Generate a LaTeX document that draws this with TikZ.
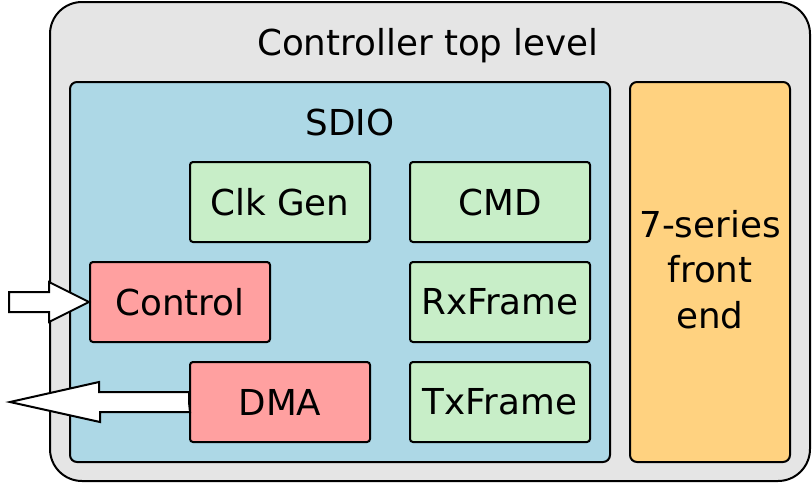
\documentclass[tikz,border=0pt]{standalone}
\usepackage{fontspec}
\setmainfont{DejaVu Sans}
\definecolor{outerbg}{HTML}{E5E5E5}
\definecolor{sdiobg}{HTML}{ADD8E6}
\definecolor{greenbg}{HTML}{C8EEC8}
\definecolor{pinkbg}{HTML}{FFA0A0}
\definecolor{orangebg}{HTML}{FFD280}
\begin{document}
\begin{tikzpicture}[x=1pt,y=-1pt,
  every node/.style={font=\fontsize{35.7}{45.5}\selectfont, inner sep=0pt},
  blk/.style={draw=black, line width=2pt, rounded corners=3pt, minimum width=180pt, minimum height=80pt},
  gblk/.style={blk, fill=greenbg},
  pblk/.style={blk, fill=pinkbg},
  bigarrow/.style={draw=black, line width=2pt, fill=white, line join=miter}
]
\useasboundingbox (0,0) rectangle (812,483);
% containers
\draw[line width=2pt, fill=outerbg, rounded corners=32pt] (50,2) rectangle (810,481);
\node[anchor=base] (title) at (428,55) {Controller top level};
\draw[line width=2pt, fill=sdiobg, rounded corners=7pt] (70,82) rectangle (610,462);
\node[anchor=base] (sdiotitle) at (350,135.5) {SDIO};
\node[draw=black, line width=2pt, fill=orangebg, rounded corners=7pt,
      minimum width=160pt, minimum height=380pt, align=center] (fe) at (710,272) {};
\node[align=center] (fetext) at (710,269.5) {7-series\\front\\end};
% blocks
\node[gblk] (clk) at (280,202) {Clk Gen};
\node[gblk] (cmd) at (500,202) {CMD};
\node[pblk] (ctrl) at (180,302) {Control};
\node[gblk] (rx) at (500,302) {RxFrame};
\node[pblk] (dma) at (280,402) {DMA};
\node[gblk] (tx) at (500,402) {TxFrame};
% input arrow
\draw[bigarrow] (ctrl.west) -- ++(-40,-20) -- ++(0,10) -- ++(-40,0) -- ++(0,20) -- ++(40,0) -- ++(0,10) -- cycle;
% output arrow
\coordinate (outtip) at (10,402);
\draw[bigarrow] (dma.west) -- ++(0,-10) -- ++(-90,0) -- ++(0,-10) -- (outtip) -- ++(90,20) -- ++(0,-10) -- ++(90,0) -- cycle;
\end{tikzpicture}
\end{document}
